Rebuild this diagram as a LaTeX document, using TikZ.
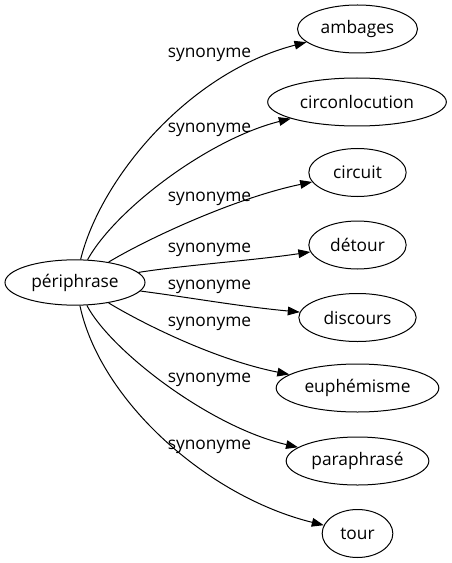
\documentclass[tikz,border=0pt]{standalone}
\usepackage{fontspec}
\setmainfont{Open Sans}
\usetikzlibrary{shapes.geometric,arrows.meta}

\begin{document}
\begin{tikzpicture}[x=0.75pt,y=-0.75pt,
    word/.style={ellipse,draw,line width=0.75pt,inner sep=0pt,minimum height=36pt,font=\fontsize{13}{15}\selectfont},
    rel/.style={inner sep=0pt,font=\fontsize{13}{15}\selectfont},
    arr/.style={-{Triangle[length=9pt,width=6.5pt]},line width=0.75pt}]
    \useasboundingbox (0,0) rectangle (452,563);
    \node[word,minimum width=105pt,minimum height=34pt] (peri) at (75,282.5) {périphrase};
    \node[word,minimum width=90pt] (amb) at (357.5,29) {ambages};
    \node[word,minimum width=134pt] (circ) at (357,102) {circonlocution};
    \node[word,minimum width=73pt] (circuit) at (357.5,172.5) {circuit};
    \node[word,minimum width=73pt] (detour) at (357.5,245) {détour};
    \node[word,minimum width=88pt] (disc) at (357.5,317.5) {discours};
    \node[word,minimum width=122pt] (euph) at (357.5,388) {euphémisme};
    \node[word,minimum width=107pt] (para) at (357.5,461) {paraphrasé};
    \node[word,minimum width=53pt] (tour) at (357.5,533.5) {tour};
    % labels
    \node[rel] (l1) at (209.5,54.5) {synonyme};
    \node[rel] (l2) at (209.5,130) {synonyme};
    \node[rel] (l3) at (209.5,198.5) {synonyme};
    \node[rel] (l4) at (209.5,250) {synonyme};
    \node[rel] (l5) at (209.5,286.5) {synonyme};
    \node[rel] (l6) at (209.5,323.5) {synonyme};
    \node[rel] (l7) at (209.5,380) {synonyme};
    \node[rel] (l8) at (209.5,446.5) {synonyme};
    % edges
    \draw[arr] (peri) .. controls (100,180) and (187,73) .. (amb);
    \draw[arr] (peri) .. controls (115,210) and (207.7,139.4) .. (circ);
    \draw[arr] (peri) .. controls (145,240) and (233.7,198.3) .. (circuit);
    \draw[arr] (peri) .. controls (185,265) and (250.7,260.8) .. (detour);
    \draw[arr] (peri) .. controls (190,297.5) and (239,306.4) .. (disc);
    \draw[arr] (peri) .. controls (140,322) and (213.5,359.4) .. (euph);
    \draw[arr] (peri) .. controls (110,350) and (209.3,426.8) .. (para);
    \draw[arr] (peri) .. controls (100,400) and (206.5,496.3) .. (tour);
\end{tikzpicture}
\end{document}
